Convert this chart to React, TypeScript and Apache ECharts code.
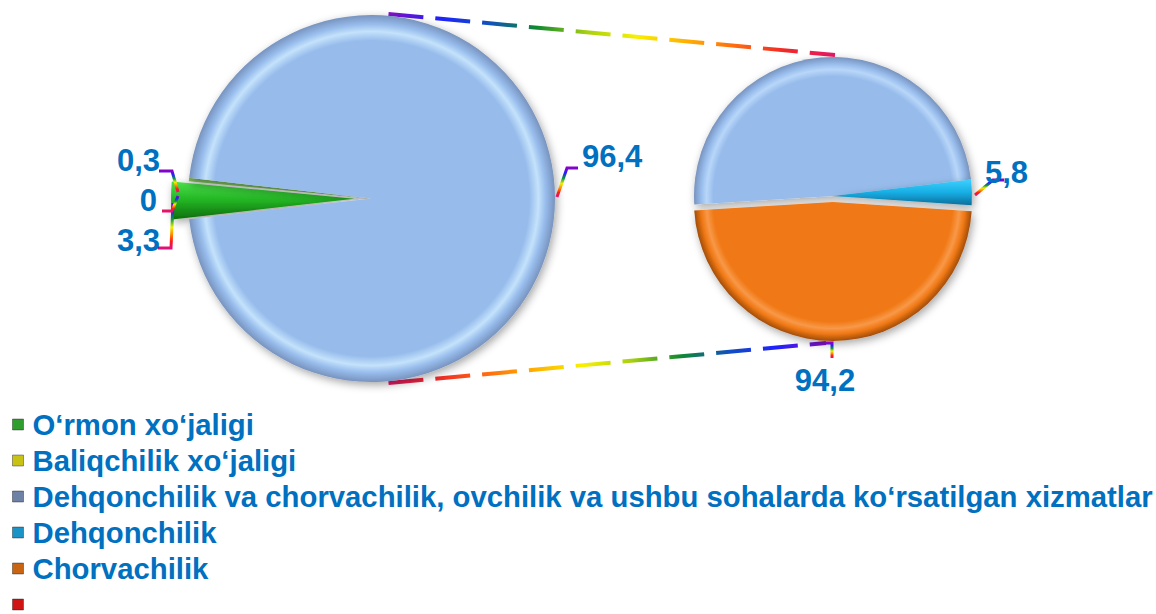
import React, { useEffect, useRef } from "react";
import * as echarts from "echarts";

// ---- data ----
const legendNames = [
  "O‘rmon xo‘jaligi",
  "Baliqchilik xo‘jaligi",
  "Dehqonchilik va chorvachilik, ovchilik va ushbu sohalarda ko‘rsatilgan xizmatlar",
  "Dehqonchilik",
  "Chorvachilik",
  "\u00A0",
];
const mainPieNames = [legendNames[0], legendNames[1], legendNames[5], legendNames[2]];
const mainPieValues = [3.3, 0.3, 0, 96.4];
const secondPieNames = [legendNames[2], legendNames[3], legendNames[4]];
const secondPieValues = [96.4, 5.8, 94.2];
const secondPieLabelShown = [false, true, true];

// ---- styles ----
const FONT = "'Liberation Sans', Arial, sans-serif";
const LABEL_COLOR = "#0070C0";
const L = { cx: 371.5, cy: 198.5, r: 183.5 };
const R = { cx: 833, cy: 196, r: 139 };

const legendIconColors = ["#2E9E2E", "#C8C214", "#6D82A6", "#1A93C6", "#C86412", "#D01414"];

const rainbowV = {
  type: "linear",
  x: 0,
  y: 0,
  x2: 0,
  y2: 1,
  colorStops: [
    { offset: 0, color: "#8A00C8" },
    { offset: 0.18, color: "#2222FF" },
    { offset: 0.36, color: "#0A9A3A" },
    { offset: 0.54, color: "#F0F000" },
    { offset: 0.7, color: "#FF8A00" },
    { offset: 0.85, color: "#FF1A1A" },
    { offset: 1, color: "#E0107A" },
  ],
};
const rainbowH = (reverse: boolean) => {
  const stops = [
    "#8A10C8",
    "#2020FF",
    "#1050C0",
    "#108A30",
    "#A8D010",
    "#F8F000",
    "#FFB000",
    "#FF6A10",
    "#F02828",
    "#E8186A",
  ];
  const s = reverse ? stops.slice().reverse() : stops;
  return {
    type: "linear",
    x: 0,
    y: 0,
    x2: 1,
    y2: 0,
    colorStops: s.map((c, i) => ({ offset: i / (s.length - 1), color: c })),
  };
};

const radial = (c: { cx: number; cy: number; r: number }, base: string, light: string, dark: string) =>
  new echarts.graphic.RadialGradient(
    c.cx,
    c.cy,
    c.r,
    [
      { offset: 0, color: base },
      { offset: 0.86, color: base },
      { offset: 0.91, color: light },
      { offset: 0.95, color: base },
      { offset: 1, color: dark },
    ],
    true
  );

const mainColors = [
  new echarts.graphic.LinearGradient(0, 0, 0, 1, [
    { offset: 0, color: "#4CE04C" },
    { offset: 0.5, color: "#22B422" },
    { offset: 1, color: "#0E6E0E" },
  ]),
  "#7AB85A",
  "#E01010",
  radial(L, "#97BCEC", "#C4E2FB", "#7893BE"),
];
const secondColors = [
  radial(R, "#97BCEC", "#B8D6F8", "#7893BE"),
  new echarts.graphic.LinearGradient(0, 0, 0, 1, [
    { offset: 0, color: "#3CD0FF" },
    { offset: 0.5, color: "#18AEE4" },
    { offset: 1, color: "#0A6E9A" },
  ]),
  radial(R, "#F07814", "#F89848", "#A04C08"),
];

// label positions: [x, y, align, linePoints]
const mainLabelPos: any[] = [
  [160, 240, "right", [[173, 203], [171, 248], [158, 248]]],
  [160, 160, "right", [[178, 192], [172, 171], [159, 171]]],
  [157, 200, "right", [[178, 196], [172, 211], [162, 211]]],
  [582, 156, "left", [[557, 197], [567, 168], [578, 168]]],
];
const secondLabelPos: any[] = [
  [0, 0, "left", null],
  [985, 172, "left", [[975, 195], [993, 180], [1004, 180]]],
  [825, 380, "center", [[826, 343], [832, 343], [832, 358]]],
];

const fmt = (p: any) => String(p.value).replace(".", ",");

export default function App() {
  const ref = useRef<HTMLDivElement>(null);
  useEffect(() => {
    document.body.style.margin = "0";
    const chart = echarts.init(ref.current!, null, { renderer: "svg" });
    const labelBase = {
      show: true,
      position: "outside",
      formatter: fmt,
      color: LABEL_COLOR,
      fontSize: 31,
      fontWeight: "bold",
      fontFamily: FONT,
    };
    const labelLineBase = {
      show: true,
      lineStyle: { color: rainbowV, width: 3 },
    };
    const shadow = {
      shadowBlur: 8,
      shadowColor: "rgba(0,0,0,0.35)",
      shadowOffsetX: 2,
      shadowOffsetY: 3,
    };
    const mkLayout = (table: any[]) => (params: any) => {
      const p = table[params.dataIndex];
      if (!p || !p[3]) return {};
      return {
        x: p[0],
        y: p[1],
        align: p[2],
        verticalAlign: "middle",
        labelLinePoints: p[3],
        hideOverlap: false,
      };
    };
    const pieBase = (c: any, start: number) => ({
      type: "pie",
      center: [c.cx, c.cy],
      radius: c.r,
      startAngle: start,
      clockwise: true,
      avoidLabelOverlap: false,
      emphasis: { disabled: true },
    });
    chart.setOption({
      animation: false,
      backgroundColor: "#ffffff",
      legend: {
        orient: "vertical",
        left: 12,
        top: 410,
        height: 240,
        padding: 0,
        itemWidth: 11,
        itemHeight: 11,
        itemGap: 7,
        icon: "rect",
        selectedMode: false,
        textStyle: {
          fontSize: 29.3,
          fontWeight: "bold",
          color: LABEL_COLOR,
          fontFamily: FONT,
          lineHeight: 29,
          padding: [0, 0, 0, 4],
        },
        data: legendNames.map((n, i) => ({
          name: n,
          itemStyle: { color: legendIconColors[i], borderColor: "rgba(0,0,0,0.35)", borderWidth: 1 },
        })),
      },
      graphic: [
        {
          type: "line",
          z: 0,
          shape: { x1: L.cx + 17, y1: L.cy - L.r - 1, x2: R.cx + 2, y2: R.cy - R.r - 2 },
          style: { stroke: rainbowH(false), lineWidth: 4, lineDash: [35, 12] },
        },
        {
          type: "line",
          z: 0,
          shape: { x1: L.cx + 17, y1: L.cy + L.r + 1, x2: R.cx - 7, y2: 343 },
          style: { stroke: rainbowH(true), lineWidth: 4, lineDash: [35, 12] },
        },
      ],
      series: [
        // drawn slices
        {
          ...pieBase(L, 186.5),
          selectedMode: "single",
          selectedOffset: 17,
          label: { show: false },
          labelLine: { show: false },
          itemStyle: shadow,
          data: mainPieNames.map((n, i) => ({
            name: n,
            value: mainPieValues[i],
            selected: i === 0,
            itemStyle: { color: mainColors[i] },
          })),
        },
        {
          ...pieBase(R, 183.5),
          selectedMode: "single",
          selectedOffset: 6,
          label: { show: false },
          labelLine: { show: false },
          itemStyle: shadow,
          data: secondPieNames.map((n, i) => ({
            name: n,
            value: secondPieValues[i],
            selected: i === 2,
            itemStyle: { color: secondColors[i] },
          })),
        },
        // value labels (same data, invisible slices)
        {
          ...pieBase(L, 186.5),
          silent: true,
          selectedMode: false,
          z: 3,
          itemStyle: { color: "rgba(0,0,0,0)" },
          label: labelBase,
          labelLine: labelLineBase,
          labelLayout: mkLayout(mainLabelPos),
          data: mainPieNames.map((n, i) => ({ name: n, value: mainPieValues[i] })),
        },
        {
          ...pieBase(R, 183.5),
          silent: true,
          selectedMode: false,
          z: 3,
          itemStyle: { color: "rgba(0,0,0,0)" },
          label: labelBase,
          labelLine: labelLineBase,
          labelLayout: mkLayout(secondLabelPos),
          data: secondPieNames.map((n, i) => ({
            name: n,
            value: secondPieValues[i],
            label: { show: secondPieLabelShown[i] },
            labelLine: { show: secondPieLabelShown[i] },
          })),
        },
      ],
    });
    return () => chart.dispose();
  }, []);
  return <div ref={ref} style={{ width: 1156, height: 614 }} />;
}
